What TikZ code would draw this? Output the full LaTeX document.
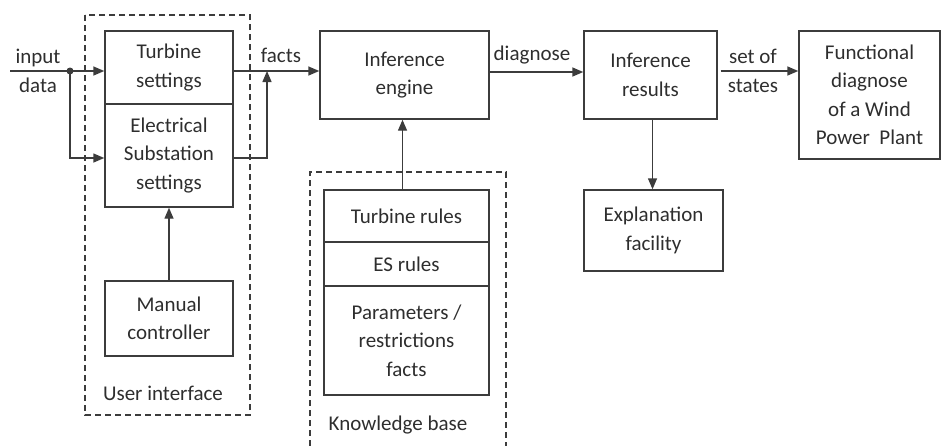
\documentclass[tikz,border=0pt]{standalone}
\usepackage{fontspec}
\setmainfont{Carlito}
\usetikzlibrary{arrows.meta}
\definecolor{ln}{HTML}{3C3C3C}
\definecolor{tx}{HTML}{2E2E2E}
\begin{document}
\begin{tikzpicture}[x=1pt,y=-1pt,
  font=\fontsize{21}{28.5}\selectfont,
  every node/.style={text=tx},
  blk/.style={draw=ln,line width=1.4pt,rectangle,inner sep=0pt,align=center,anchor=center},
  lbl/.style={inner sep=0pt,align=center},
  conn/.style={draw=ln,line width=1.4pt,-{Triangle[length=11pt,width=9pt]}},
  plain/.style={draw=ln,line width=1.4pt},
  grp/.style={draw=ln,line width=1.3pt,dash pattern=on 6pt off 4pt}]
\useasboundingbox (0,0) rectangle (942,445);
% group boxes
\draw[grp] (85,15) rectangle (250,415);
\draw[grp] (310,446) -- (310,172) -- (506,172) -- (506,446);
% blocks
\node[blk,minimum width=128pt,minimum height=73pt] (ts) at (169,67.5) {Turbine\\settings};
\node[blk,minimum width=128pt,minimum height=103pt] (es) at (169,155.5) {Electrical\\Substation\\settings};
\node[blk,minimum width=128pt,minimum height=75pt] (mc) at (169,318.5) {Manual\\controller};
\node[blk,minimum width=169pt,minimum height=88pt] (ie) at (404.5,75) {Inference\\engine};
\node[blk,minimum width=165pt,minimum height=52pt] (tr) at (406.5,216) {Turbine rules};
\node[blk,minimum width=165pt,minimum height=44pt] (esr) at (406.5,264) {ES rules};
\node[blk,minimum width=165pt,minimum height=109pt] (par) at (406.5,340.5) {Parameters /\\restrictions\\facts};
\node[blk,minimum width=133pt,minimum height=88pt] (ir) at (650.5,75) {Inference\\results};
\node[blk,minimum width=139pt,minimum height=81pt] (ef) at (653.5,230.5) {Explanation\\facility};
\node[blk,minimum width=141pt,minimum height=128pt] (fd) at (869.5,95) {Functional\\diagnose\\of a Wind\\Power\ \ Plant};
% labels
\node[lbl] (lin) at (38,71) {input\\data};
\node[lbl] (lfacts) at (281,55) {facts};
\node[lbl] (ldiag) at (532,55) {diagnose};
\node[lbl] (lset) at (753,71) {set of\\states};
\node[lbl] (lui) at (163,393) {User interface};
\node[lbl] (lkb) at (398,425) {Knowledge base};
% coordinates
\coordinate (start) at (10,71);
\coordinate (dot) at (70,71);
\coordinate (row) at (0,71);
\coordinate (row2) at (0,72);
\coordinate (esrow) at (0,158);
\coordinate (j) at (267,71);
% connectors
\draw[conn] (start) -- (ts.west |- row);
\fill[ln] (dot) circle (3.5pt);
\draw[conn] (dot) |- (es.west |- esrow);
\draw[plain] (ts.east |- row) -- (j);
\draw[conn] (j) -- (ie.west |- row);
\draw[conn] (es.east |- esrow) -| (j);
\draw[conn] (mc.north) -- (es.south);
\draw[conn] ([xshift=-4pt]tr.north) -- ([xshift=-4pt]tr.north |- ie.south);
\draw[conn] (ie.east |- row2) -- (ir.west |- row2);
\draw[conn] ([xshift=3pt]ir.east |- row) -- (fd.west |- row);
\draw[conn] ([xshift=2pt]ir.south) -- ([xshift=2pt]ir.south |- ef.north);
\end{tikzpicture}
\end{document}
